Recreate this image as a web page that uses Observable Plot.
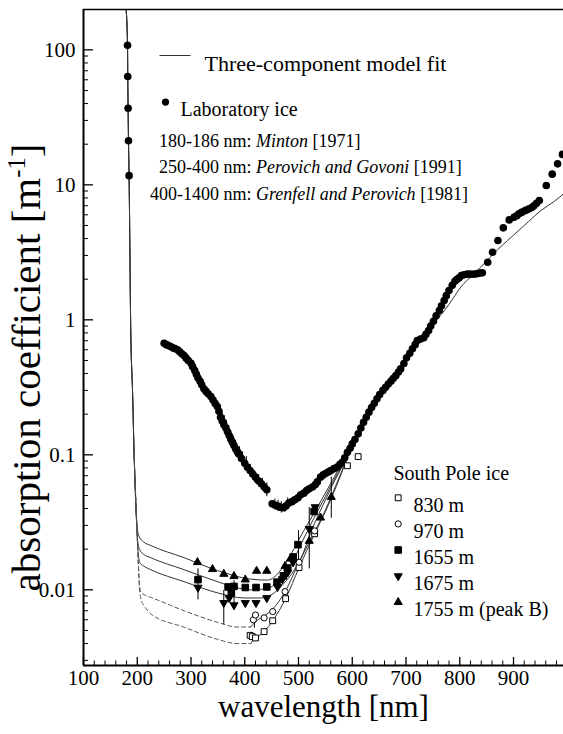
<!DOCTYPE html>
<html><head><meta charset="utf-8">
<script src="https://cdn.jsdelivr.net/npm/d3@7"></script>
<script src="https://cdn.jsdelivr.net/npm/@observablehq/plot@0.6"></script>
<style>html,body{margin:0;padding:0;background:#fff} svg text{font-family:"Liberation Serif","Times New Roman",serif;}</style>
</head><body><div id="chart"></div>
<script>
// ---------------- data (wavelength nm, absorption m^-1) ----------------
const uvTail = [[179.3,199],[181.9,108],[182.3,63.5],[183.0,36.9],[183.7,21.2],[184.8,11.7],[188,0.79],[191.2,0.30],[194.2,0.10],[199.2,0.030]];
const minton = [[181.9,108],[182.3,63.5],[183.0,36.9],[183.7,21.2],[184.8,11.7]];

const fit1755 = [[203.5,0.0248],[212,0.0226],[225,0.0213],[287,0.0173],[349,0.0139],[411,0.0120],[442,0.0118],[461,0.0131],[473,0.0152],[486,0.0183],[498,0.0225],[510,0.0275],[529,0.037],[545,0.048],[563,0.0645],[580,0.085],[591,0.0956]];
const fit1655 = [[200.5,0.0235],[204.7,0.0198],[212,0.0183],[225,0.0173],[287,0.0141],[349,0.0115],[380,0.0105],[411,0.0100],[442,0.0102],[461,0.0115],[473,0.0130],[492,0.0170],[504,0.0215],[520,0.029],[535,0.038],[550,0.049],[565,0.064],[580,0.082],[591,0.0956]];
const fit1675 = [[201,0.0205],[204.7,0.0159],[212,0.0150],[225,0.0141],[287,0.0115],[349,0.0095],[399,0.0087],[430,0.0087],[455,0.0095],[473,0.0112],[492,0.0140],[507,0.0180],[522,0.026],[537,0.036],[552,0.048],[567,0.064],[580,0.080],[591,0.0956]];
const fit970Dashed = [[202,0.0155],[204,0.0112],[206.6,0.0096],[215,0.0091],[225,0.0088],[287,0.0070],[349,0.00575],[386,0.0053],[411,0.0053]];
const fit970 = [[411,0.0053],[420,0.0058],[436,0.0064],[452,0.0072],[475,0.0097],[501,0.0160],[530,0.027],[550,0.039],[570,0.060],[591,0.0956]];
const fit830Dashed = [[202,0.0155],[204,0.0104],[206,0.0089],[208,0.0083],[215,0.0074],[225,0.00664],[287,0.00529],[349,0.0043],[386,0.0040],[411,0.0040]];
const fit830 = [[411,0.0040],[415,0.0042],[436,0.0049],[452,0.0059],[476,0.0086],[501,0.0146],[530,0.026],[550,0.038],[570,0.058],[591,0.0956]];
const fitIR = [[591,0.0956],[620,0.17],[650,0.275],[700,0.51],[750,0.92],[780,1.3],[802,1.75],[826,2.18],[845,2.6],[870,3.3],[889,3.87],[920,5.0],[951,6.45],[975,7.5],[995,8.7]];

const labPG = [[250,0.671],[254,0.655],[258,0.645],[262,0.634],[266,0.62],[270,0.612],[275,0.60],[279,0.58],[283,0.56],[287,0.544],[291,0.52],[295,0.50],[300,0.477],[303,0.45],[307,0.421],[310,0.395],[313,0.371],[317,0.35],[320,0.33],[324,0.308],[328,0.295],[332,0.283],[337,0.27],[341,0.255],[345,0.24],[349,0.228],[352,0.21],[355,0.19],[358,0.178],[361,0.168],[365,0.158],[368,0.148],[371,0.139],[374,0.131],[377,0.124],[380,0.117],[383,0.111],[386,0.106],[389,0.1016],[394,0.094],[400,0.0867],[405,0.081],[410,0.0765],[415,0.072],[420,0.0683],[426,0.064],[431,0.061],[436,0.058],[441,0.055]];
const labGP = [[451,0.0434],[456,0.0425],[461,0.0417],[466,0.041],[472,0.0405],[477,0.042],[482,0.0439],[488,0.045],[493,0.0465],[499,0.048],[504,0.0505],[510,0.052],[515,0.0544],[520,0.056],[526,0.0577],[531,0.060],[535,0.063],[541,0.0683],[546,0.071],[551,0.073],[556,0.075],[560,0.0765],[566,0.079],[572,0.0812],[577,0.085],[582,0.0885],[586,0.095],[591,0.1045],[596,0.112],[600,0.1205],[605,0.13],[611,0.143],[616,0.158],[621,0.174],[626,0.19],[631,0.207],[636,0.224],[641,0.241],[646,0.26],[651,0.28],[657,0.30],[662,0.317],[667,0.334],[672,0.351],[676,0.368],[681,0.386],[686,0.41],[690,0.433],[696,0.475],[701,0.523],[707,0.565],[712,0.61],[717,0.655],[721,0.703],[727,0.72],[733,0.736],[737,0.78],[742,0.834],[746,0.90],[751,0.977],[756,1.07],[762,1.17],[766,1.27],[771,1.39],[775,1.51],[780,1.65],[786,1.80],[791,1.93],[795,2.0],[799,2.05],[803,2.13],[808,2.16],[814,2.18],[820,2.18],[827,2.18],[833,2.2],[838,2.22],[842,2.23],[852,2.67],[861,3.17],[871,3.87],[881,4.8],[892,5.5],[901,5.75],[906,5.9],[910,6.1],[915,6.25],[920,6.4],[924,6.5],[929,6.64],[934,6.8],[938,7.0],[943,7.3],[948,7.65],[961,9.88],[972,12.0],[982,14.3],[991,16.8]];
const labErr = [[358,0.155,0.205],[362,0.145,0.195],[366,0.135,0.18],[370,0.125,0.165],[374,0.115,0.15],[378,0.108,0.14],[383,0.097,0.128],[390,0.09,0.115],[396,0.083,0.105],[403,0.077,0.097],[410,0.069,0.085],[418,0.062,0.076],[426,0.058,0.071],[433,0.054,0.067],[441,0.049,0.062],[456,0.039,0.047],[462,0.038,0.046],[468,0.037,0.045],[480,0.039,0.048]];

const sp830 = [[410,0.0046],[414,0.0045],[420,0.0044],[436,0.0049],[452,0.0059],[476,0.0086],[501,0.0146],[530,0.026],[591,0.083],[611,0.097]];
const sp970 = [[416,0.0060],[420,0.0065],[436,0.0062],[452,0.0069],[475,0.0097],[501,0.016],[530,0.0273]];
const sp1655 = [[313,0.0119],[369,0.0105],[375,0.0095],[380,0.0106],[401,0.0104],[421,0.0104],[441,0.0105],[460,0.0114],[472,0.0127],[480,0.0145],[490,0.0175],[499,0.0216],[529,0.038]];
const sp1675 = [[313,0.0104],[361,0.0080],[371,0.0087],[380,0.0077],[401,0.0080],[421,0.0080],[441,0.0087],[461,0.0105],[470,0.0120],[480,0.0135],[490,0.0160],[520,0.0283],[531,0.041]];
const sp1755 = [[312,0.0160],[340,0.0142],[361,0.0131],[380,0.0126],[401,0.0119],[422,0.0138],[441,0.0138],[475,0.0150],[485,0.0170],[520,0.0230],[541,0.0342],[561,0.0486]];
const spErr = [[313,0.00843,0.0143],[361,0.00553,0.00989],[380,0.0071,0.0117],[418,0.0052,0.0066],[500,0.0141,0.0275],[520,0.0143,0.0407],[561,0.0339,0.0683]];

const xTicks = [100,200,300,400,500,600,700,800,900];
const xTickLabels = ["100","200","300","400","500","600","700","800","900"];
const yTicks = [0.01,0.1,1,10,100];
const yTickLabels = ["0.01","0.1","1","10","100"];
const spLabels = ["830 m","970 m","1655 m","1675 m","1755 m (peak B)"];
const refPrefix = ["180-186 nm:","250-400 nm:","400-1400 nm:"];
const refNames = ["Minton","Perovich and Govoni","Grenfell and Perovich"];
const refYears = ["[1971]","[1991]","[1981]"];

// ---------------- layout ----------------
const FONT = "Liberation Serif, Times New Roman, serif";
const W = 563, H = 734, mL = 83, mT = 9, mR = 0, mB = 69;
const innerW = W - mL - mR, innerH = H - mT - mB;
const xDomain = [100, 993];
const yDomain = [0.00275, 199];

const xMinor = d3.range(120, 1000, 20).filter(v => v % 100 !== 0);
const yMinor = [];
[0.001,0.01,0.1,1,10,100].forEach(d => { for (let k = 2; k <= 9; k++) { const v = d*k; if (v > yDomain[0] && v < yDomain[1]) yMinor.push(v); } });

const triDown = {draw(ctx, size) {
  const y = -Math.sqrt(size / (Math.sqrt(3) * 3));
  ctx.moveTo(0, -y * 2); ctx.lineTo(-Math.sqrt(3) * y, y); ctx.lineTo(Math.sqrt(3) * y, y); ctx.closePath();
}};
const legendLine = {draw(ctx) { ctx.moveTo(-15.5, 0); ctx.lineTo(15.5, 0); }};

const X = d => d[0], Y = d => d[1];
const LINE = "#333";
const spStyles = [
  {symbol: "square", fill: "white", stroke: "black", r: 3.3},
  {symbol: "circle", fill: "white", stroke: "black", r: 3.1},
  {symbol: "square", fill: "black", stroke: "black", r: 3.7},
  {symbol: triDown, fill: "black", stroke: "black", r: 3.0},
  {symbol: "triangle", fill: "black", stroke: "black", r: 3.0}
];
const spData = [sp830, sp970, sp1655, sp1675, sp1755];

function fitLine(data, dashed) {
  return Plot.line(data, {x: X, y: Y, curve: "monotone-x", stroke: dashed ? "#555" : LINE, strokeWidth: 1, strokeDasharray: dashed ? "4,3" : null, clip: true});
}
function tl(dx, dy) { return {frameAnchor: "top-left", dx, dy}; }

const marks = [
  fitLine(uvTail.concat(fit1755)), fitLine(uvTail.concat(fit1655)), fitLine(uvTail.concat(fit1675)),
  fitLine(uvTail.slice(-2).concat(fit970Dashed), true), fitLine(fit970),
  fitLine(uvTail.slice(-2).concat(fit830Dashed), true), fitLine(fit830),
  fitLine(fitIR),
  Plot.ruleX(labErr, {x: X, y1: d => d[1], y2: d => d[2], stroke: "black", strokeWidth: 1}),
  Plot.ruleX(spErr, {x: X, y1: d => d[1], y2: d => d[2], stroke: "black", strokeWidth: 1}),
  Plot.dot(minton.concat(labPG, labGP), {x: X, y: Y, r: 3.8, fill: "black"}),
  ...spData.map((d, i) => Plot.dot(d, {x: X, y: Y, ...spStyles[i], strokeWidth: 1})),
  Plot.ruleX([xDomain[0]], {stroke: "black", strokeWidth: 2}),
  Plot.ruleY([yDomain[0]], {stroke: "black", strokeWidth: 2}),
  Plot.ruleY([yDomain[1]], {stroke: "black", strokeWidth: 1.5}),
  Plot.ruleX(xTicks, {x: d => d, insetTop: innerH - 8, stroke: "black", strokeWidth: 1.3}),
  Plot.ruleX(xMinor, {x: d => d, insetTop: innerH - 4.5, stroke: "black", strokeWidth: 1}),
  Plot.ruleY(yTicks, {y: d => d, insetRight: innerW - 10, stroke: "black", strokeWidth: 1.3}),
  Plot.ruleY(yMinor, {y: d => d, insetRight: innerW - 5, stroke: "black", strokeWidth: 1}),
  Plot.axisX(xTicks, {tickSize: 0, tickPadding: 5, fontSize: 21, label: null, tickFormat: d => xTickLabels[xTicks.indexOf(d)]}),
  Plot.axisY(yTicks, {tickSize: 0, tickPadding: 8, fontSize: 21, label: null, tickFormat: d => yTickLabels[yTicks.indexOf(d)]}),
  Plot.text(["wavelength [nm]"], {frameAnchor: "bottom", dy: 51, fontSize: 31, textAnchor: "middle"}),
  Plot.text(["absorption coefficient [m-1]"], {frameAnchor: "left", dx: -57, dy: 30, rotate: -90, fontSize: 41, textAnchor: "middle"}),
  Plot.dot([0], {...tl(91.5, 46), symbol: legendLine, stroke: LINE, fill: "none", strokeWidth: 1}),
  Plot.text(["Three-component model fit"], {...tl(121, 46), textAnchor: "start", fontSize: 22}),
  Plot.dot([0], {...tl(82, 92.6), r: 3.6, fill: "black"}),
  Plot.text(["Laboratory ice"], {...tl(97, 92.6), textAnchor: "start", fontSize: 20}),
  ...refPrefix.map((t, i) => Plot.text([t], {...tl(168, 124.3 + i * 26.5), textAnchor: "end", fontSize: 18})),
  ...refNames.map((t, i) => Plot.text([t + " " + refYears[i]], {...tl(172.5, 124.3 + i * 26.5), textAnchor: "start", fontSize: 18})),
  Plot.text(["South Pole ice"], {...tl(310, 456), textAnchor: "start", fontSize: 20}),
  ...spLabels.map((t, i) => Plot.dot([0], {...tl(314.7, 488.3 + i * 26.1), ...spStyles[i], strokeWidth: 1})),
  ...spLabels.map((t, i) => Plot.text([t], {...tl(330, 488.3 + i * 26.1), textAnchor: "start", fontSize: 20}))
];

const svg = Plot.plot({
  width: W, height: H,
  marginLeft: mL, marginTop: mT, marginRight: mR, marginBottom: mB,
  style: {background: "white", overflow: "visible", color: "black"},
  x: {domain: xDomain, axis: null},
  y: {type: "log", domain: yDomain, axis: null},
  marks
});
d3.select(svg).attr("font-family", FONT).style("font-family", FONT);

d3.select(svg).selectAll("text").each(function() {
  const t = this.textContent;
  const sel = d3.select(this).attr("font-family", FONT);
  const idx = refNames.findIndex((n, i) => t === n + " " + refYears[i]);
  if (idx >= 0) {
    sel.text(null);
    sel.append("tspan").attr("font-style", "italic").text(refNames[idx]);
    sel.append("tspan").text("\u00a0" + refYears[idx]);
  } else if (t === "absorption coefficient [m-1]") {
    sel.text(null);
    sel.append("tspan").text("absorption coefficient [m");
    sel.append("tspan").attr("font-size", "0.6em").attr("dy", "-0.6em").text("-1");
    sel.append("tspan").attr("dy", "0.36em").text("]");
  }
});
document.getElementById("chart").appendChild(svg);
</script>
</body></html>
